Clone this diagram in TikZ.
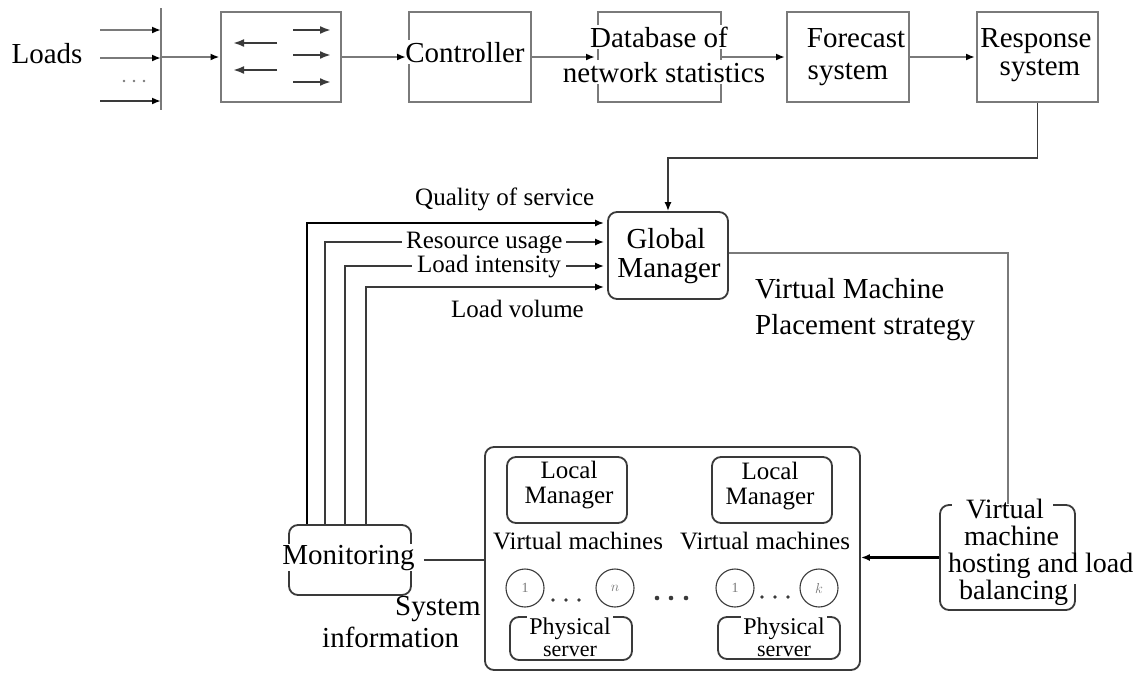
\documentclass[tikz,border=0pt]{standalone}
\usepackage{fontspec}
\setmainfont{Liberation Serif}
\usetikzlibrary{arrows.meta,calc}
\definecolor{ln}{HTML}{7A7A7A}
\definecolor{dk}{HTML}{3A3A3A}
\newcommand\fbig{\fontsize{29}{33}\selectfont}
\newcommand\fmid{\fontsize{25}{25}\selectfont}
\newcommand\fsrv{\fontsize{22}{22}\selectfont}
\newcommand\fcirc{\fontsize{14}{14}\selectfont}
\tikzset{
  sqbox/.style={draw=ln,line width=2pt,inner sep=0pt},
  rbox/.style={draw=dk,line width=1.8pt,rounded corners=9pt,inner sep=0pt},
  txt/.style={inner sep=0pt},
  mask/.style={inner xsep=2pt,inner ysep=2pt,fill=white},
  arr/.style={draw=ln,line width=2pt,-{Latex[length=9pt,width=7pt,color=black]}},
  darr/.style={draw=dk,line width=1.6pt,-{Latex[length=9pt,width=7pt,color=black]}},
  plain/.style={draw=ln,line width=2pt},
  dplain/.style={draw=dk,line width=1.6pt},
  vmc/.style={circle,draw=dk,line width=1.1pt,minimum size=38pt,inner sep=0pt,font=\fcirc,text=ln}
}
\begin{document}
\begin{tikzpicture}[x=1pt,y=-1pt]
\useasboundingbox[fill=white] (0,0) rectangle (1145,675);

% ---------- load inputs ----------
\node[txt,font=\fbig,anchor=base] (loads) at (47,63) {Loads};
\coordinate (barT) at (161,8);
\coordinate (barB) at (161,110);
\draw[plain] (barT) -- (barB);
\coordinate (in1) at (100,30);
\coordinate (in2) at (100,58);
\coordinate (in3) at (100,101);
\draw[arr] (in1) -- (in1 -| barT);
\draw[arr] (in2) -- (in2 -| barT);
\draw[arr,draw=dk] (in3) -- (in3 -| barT);
\foreach \x in {124,134,144} \fill[ln] (\x,81) circle (1.3);

% ---------- top row of blocks ----------
\node[sqbox,minimum width=120pt,minimum height=90pt] (sw) at (280.5,57) {};
\draw[dk,line width=2.6pt,-{Latex[length=11pt,width=8pt]}] (277,43) -- (233,43);
\draw[dk,line width=2.6pt,-{Latex[length=11pt,width=8pt]}] (277,70) -- (233,70);
\draw[dk,line width=2pt,-{Latex[length=11pt,width=8pt]}] (293,30) -- (331,30);
\draw[dk,line width=2.6pt,-{Latex[length=11pt,width=8pt]}] (293,55) -- (331,55);
\draw[dk,line width=2.6pt,-{Latex[length=11pt,width=8pt]}] (293,82) -- (331,82);

\node[sqbox,minimum width=122pt,minimum height=90pt] (ctrl) at (470,57) {};
\node[txt,mask,font=\fbig,anchor=base] (ctrlt) at (465,62) {Controller};

\node[sqbox,minimum width=123pt,minimum height=90pt] (db) at (659.5,57) {};
\node[txt,mask,font=\fbig,anchor=base] (db1) at (659,47) {Database of};
\node[txt,mask,font=\fbig,anchor=base] (db2) at (664,82) {network statistics};

\node[sqbox,minimum width=122pt,minimum height=90pt] (fc) at (848,57) {};
\node[txt,font=\fbig,anchor=base] (fc1) at (856,47) {Forecast};
\node[txt,font=\fbig,anchor=base] (fc2) at (848,79) {system};

\node[sqbox,minimum width=121pt,minimum height=90pt] (resp) at (1037.5,57) {};
\node[txt,font=\fbig,anchor=base] (resp1) at (1036,47) {Response};
\node[txt,font=\fbig,anchor=base] (resp2) at (1040,75) {system};

\draw[arr] (barT |- sw.west) -- (sw.west);
\draw[arr] (sw.east) -- ([xshift=-2pt]ctrl.west);
\draw[arr] (ctrl.east) -- ([xshift=-2pt]db.west);
\draw[arr] (db.east) -- ([xshift=-1pt]fc.west);
\draw[arr] (fc.east) -- ([xshift=-1pt]resp.west);

% ---------- global manager ----------
\node[rbox,minimum width=120pt,minimum height=87pt] (gm) at (668,255.5) {};
\node[txt,font=\fbig,anchor=base] (gm1) at (666,248) {Global};
\node[txt,font=\fbig,anchor=base] (gm2) at (669,277) {Manager};
\draw[darr] (resp.south) -- ++(0,55) -| (gm.north);

\node[txt,font=\fbig,anchor=base west] (vmp1) at (755,298) {Virtual Machine};
\node[txt,font=\fbig,anchor=base west] (vmp2) at (755,334) {Placement strategy};

% ---------- monitoring ----------
\node[rbox,minimum width=122pt,minimum height=70pt] (mon) at (350,560) {};
\node[txt,mask,inner ysep=1pt,font=\fbig,anchor=base] (mont) at (348.5,564) {Monitoring};
\node[txt,font=\fbig,anchor=base west] (sys1) at (395,615) {System};
\node[txt,font=\fbig,anchor=base west] (sys2) at (322,647) {information};

\draw[darr,draw=black,line width=2.2pt,shorten >=3pt] ([xshift=-43pt]mon.north) |- ([yshift=32.5pt]gm.west);
\draw[darr,shorten >=3pt] ([xshift=-25pt]mon.north) |- ([yshift=13.5pt]gm.west);
\draw[darr,shorten >=3pt] ([xshift=-5pt]mon.north) |- ([yshift=-10.5pt]gm.west);
\draw[darr,shorten >=3pt] ([xshift=16pt]mon.north) |- ([yshift=-31.5pt]gm.west);

\node[txt,font=\fmid,anchor=base west] (qos) at (415,205) {Quality of service};
\node[txt,mask,inner xsep=4pt,font=\fmid,anchor=base west] (ru) at (402,248) {Resource usage};
\node[txt,mask,inner xsep=5pt,font=\fmid,anchor=base west] (li) at (412,272) {Load intensity};
\node[txt,font=\fmid,anchor=base west] (lv) at (451,317) {Load volume};

% ---------- server cluster ----------
\node[rbox,minimum width=375pt,minimum height=223pt] (srv) at (672.5,558.5) {};
\draw[dplain,line width=2pt,shorten <=12pt] (mon.east) -- (mon.east -| srv.west);

\node[rbox,minimum width=120pt,minimum height=66pt] (lm1) at (567,490) {};
\node[txt,mask,inner ysep=1pt,font=\fmid,align=center,anchor=base] (lm1t) at (569,503) {Local\\Manager};
\node[rbox,minimum width=120pt,minimum height=66pt] (lm2) at (772,490) {};
\node[txt,mask,inner ysep=1pt,font=\fmid,align=center,anchor=base] (lm2t) at (770,504) {Local\\Manager};

\node[txt,font=\fmid,anchor=base] (vm1) at (578,549) {Virtual machines};
\node[txt,font=\fmid,anchor=base] (vm2) at (765,549) {Virtual machines};

\node[vmc] (c1) at (525,588) {1};
\node[vmc] (c2) at (615,588) {$n$};
\node[vmc] (c3) at (735,588) {1};
\node[vmc] (c4) at (819,588) {$k$};
\foreach \x in {553,566,579} \fill[dk] (\x,600) circle (1.8);
\foreach \x in {657,671,686} \fill[dk] (\x,598) circle (2.3);
\foreach \x in {762,775,788} \fill[dk] (\x,597) circle (1.8);

\node[rbox,minimum width=122pt,minimum height=43pt] (ps1) at (571,638.5) {};
\node[txt,mask,inner ysep=1pt,font=\fontsize{24}{22}\selectfont,align=center,anchor=base] (ps1t) at (570,656) {Physical\\{\fsrv server}};
\node[rbox,minimum width=122pt,minimum height=42pt] (ps2) at (779,638) {};
\node[txt,mask,inner ysep=1pt,font=\fontsize{24}{22}\selectfont,align=center,anchor=base] (ps2t) at (784,656) {Physical\\{\fsrv server}};

% ---------- placement / balancing ----------
\node[rbox,minimum width=135pt,minimum height=105pt] (vmh) at (1007.5,557.5) {};
\fill[white] (952,496) rectangle (1053,512);
\fill[white] (1062,553) rectangle (1086,584);
\node[txt,font=\fontsize{28}{27}\selectfont,align=left,anchor=base west] (vmht) at (948,599)
  {\hspace*{18pt}Virtual\\\hspace*{16pt}machine\\hosting and load\\\hspace*{11pt}balancing};

\draw[plain] ([yshift=3pt]gm.east) -| (vmh.north);
\draw[darr,draw=black,line width=2.2pt] (vmh.west) -- (vmh.west -| srv.east);
\end{tikzpicture}
\end{document}
